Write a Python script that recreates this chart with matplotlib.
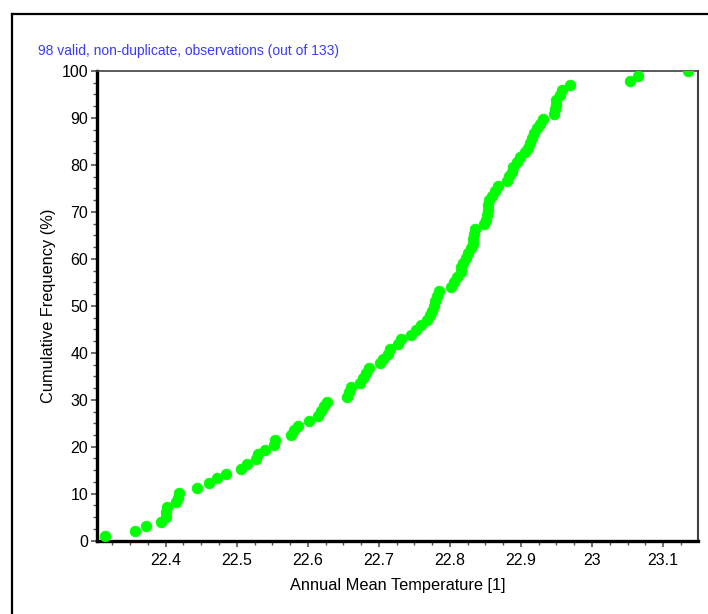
import matplotlib
matplotlib.use("Agg")
import matplotlib.pyplot as plt
from matplotlib.lines import Line2D
from matplotlib.ticker import MultipleLocator
import numpy as np

# annual mean temperature of the 98 distinct observations, sorted
temps = [
    22.3146, 22.3568, 22.3723, 22.3934, 22.4004, 22.4010, 22.4018, 22.4145, 22.4173, 22.4190,
    22.444, 22.461, 22.472, 22.485, 22.506, 22.515, 22.527, 22.530, 22.540, 22.552,
    22.554, 22.577, 22.581, 22.586, 22.602, 22.615, 22.619, 22.623, 22.627, 22.655,
    22.658, 22.661, 22.674, 22.678, 22.682, 22.686, 22.702, 22.706, 22.713, 22.716,
    22.727, 22.731, 22.745, 22.752, 22.760, 22.768, 22.772, 22.775, 22.778, 22.779,
    22.782, 22.785, 22.802, 22.806, 22.810, 22.815, 22.816, 22.818, 22.822, 22.826,
    22.830, 22.832, 22.833, 22.834, 22.836, 22.848, 22.851, 22.852, 22.853, 22.854,
    22.855, 22.859, 22.863, 22.867, 22.881, 22.883, 22.887, 22.889, 22.894, 22.898,
    22.905, 22.910, 22.913, 22.916, 22.919, 22.923, 22.927, 22.931, 22.947, 22.948,
    22.949, 22.950, 22.955, 22.958, 22.969, 23.054, 23.065, 23.135,
]
n_total = 133
x_ticks = [22.4, 22.5, 22.6, 22.7, 22.8, 22.9, 23.0, 23.1]
x_labels = ["22.4", "22.5", "22.6", "22.7", "22.8", "22.9", "23", "23.1"]
y_ticks = [0, 10, 20, 30, 40, 50, 60, 70, 80, 90, 100]

plt.rcParams["font.family"] = ["Liberation Sans", "DejaVu Sans"]

# cumulative frequency of each sorted value
x = np.sort(np.array(temps))
cum = np.arange(1, len(x) + 1) / len(x) * 100

fig = plt.figure(figsize=(7.08, 6.14), dpi=100)
ax = fig.add_axes([0.1374, 0.1194, 0.8481, 0.765])

ax.scatter(x, cum, s=58, marker="o", color="#00ff00", edgecolors="#00ff00",
           linewidths=0.6, zorder=3, clip_on=True)

ax.set_xlim(22.3037, 23.1488)
ax.set_ylim(0, 100)
ax.set_xticks(x_ticks)
ax.set_xticklabels(x_labels)
ax.set_yticks(y_ticks)
ax.xaxis.set_minor_locator(MultipleLocator(0.025))
ax.yaxis.set_minor_locator(MultipleLocator(2.5))
ax.tick_params(which="major", direction="out", length=4, width=1.2,
               color="#555555", labelsize=11.5, pad=2.5)
ax.tick_params(which="minor", direction="out", length=3, width=1.0, color="#555555")
ax.tick_params(axis="x", which="major", pad=5)

ax.spines["left"].set_linewidth(2.4)
ax.spines["bottom"].set_linewidth(2.4)
ax.spines["top"].set_linewidth(1.2)
ax.spines["right"].set_linewidth(1.5)
ax.spines["top"].set_color("#404040")
ax.spines["right"].set_color("#404040")

ax.set_xlabel("Annual Mean Temperature [1]", fontsize=11.8, labelpad=7)
ax.set_ylabel("Cumulative Frequency (%)", fontsize=11.8, labelpad=4)

fig.text(38 / 708, 1 - 51 / 614,
         "%d valid, non-duplicate, observations (out of %d)" % (len(temps), n_total),
         color="#3a3aff", fontsize=10, va="center", ha="left")

# outer frame (left and top edges visible)
fig.add_artist(Line2D([12 / 708, 12 / 708], [0, 1 - 14 / 614], color="black", lw=1.6,
                      transform=fig.transFigure))
fig.add_artist(Line2D([12 / 708, 1], [1 - 14 / 614, 1 - 14 / 614], color="black", lw=1.6,
                      transform=fig.transFigure))

fig.savefig("out.png", dpi=100)
